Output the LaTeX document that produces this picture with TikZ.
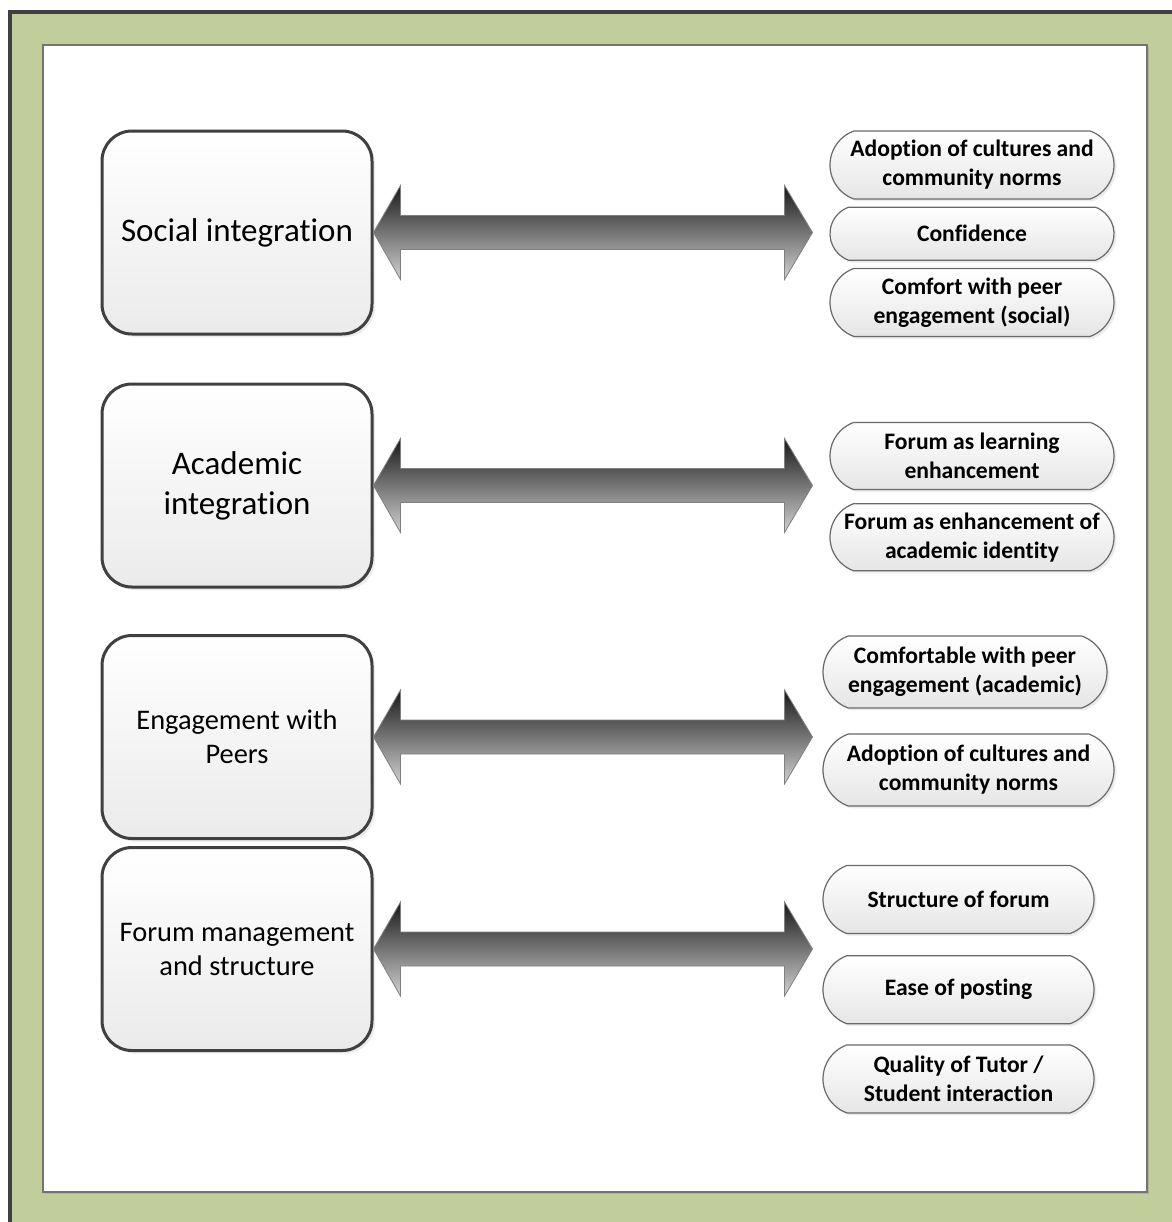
\documentclass[tikz,border=0pt]{standalone}
\usepackage{fontspec}
\setmainfont{Carlito}[RawFeature={-liga;-clig;-dlig}]
\usetikzlibrary{positioning,shapes.misc,shadows}

\definecolor{framegreen}{RGB}{194,205,156}
\definecolor{framedark}{RGB}{64,64,64}
\definecolor{pillline}{RGB}{105,105,105}

\begin{document}
\begin{tikzpicture}[x=0.5pt, y=-0.5pt, node distance=3.5pt]
    \tikzstyle{topic} = [draw=framedark, line width=1.5pt, rounded corners=15pt, top color=white, bottom color=black!8, minimum width=135pt, minimum height=101.5pt, align=center, inner sep=0pt, drop shadow={opacity=0.15, shadow xshift=1.5pt, shadow yshift=-1.5pt}]
    \tikzstyle{theme} = [draw=pillline, line width=0.6pt, rounded rectangle, rounded rectangle arc length=140, top color=white, bottom color=black!10, minimum width=142pt, minimum height=34pt, align=center, inner sep=0pt, font=\bfseries\fontsize{11.8}{14.5}\selectfont, drop shadow={opacity=0.15, shadow xshift=1.2pt, shadow yshift=-1.2pt}]
    \tikzstyle{link} = [draw=black!50, line width=0.4pt, top color=black!90, bottom color=black!18]
    \tikzstyle{big} = [font=\fontsize{16.5}{20}\selectfont]
    \tikzstyle{mid} = [font=\fontsize{14.2}{17}\selectfont]

    % frame
    \useasboundingbox (0,0) rectangle (1172,1222);
    \begin{scope}
        \clip (0,0) rectangle (1172,1222);
        \draw[framedark, line width=2pt, fill=framegreen] (10,12) rectangle (1192,1242);
    \end{scope}
    \draw[black!55, line width=1pt, fill=white, drop shadow={opacity=0.3, shadow xshift=1pt, shadow yshift=-1pt}] (43,45) rectangle (1147,1192);

    % left column
    \node[topic, big] (social) at (237,232.5) {Social integration};
    \node[topic, big] (academic) at (237,485.5) {Academic\\integration};
    \node[topic, mid] (peers) at (237,737) {Engagement with\\Peers};
    \node[topic, mid] (forum) at (237,949) {Forum management\\and structure};

    % right column
    \node[theme] (socadopt) at (972,165) {Adoption of cultures and\\community norms};
    \node[theme, minimum height=26.5pt, below=of socadopt] (socconf) {Confidence};
    \node[theme, below=of socconf] (soccomf) {Comfort with peer\\engagement (social)};

    \node[theme, minimum height=33.5pt] (acadlearn) at (972,456) {Forum as learning\\enhancement};
    \node[theme, minimum height=33.5pt, below=6.5pt of acadlearn] (acadident) {Forum as enhancement of\\academic identity};

    \node[theme, minimum height=36pt] (peercomf) at (965,672) {Comfortable with peer\\engagement (academic)};
    \node[theme, minimum height=36pt, minimum width=145.5pt] (peeradopt) at (968.5,770) {Adoption of cultures and\\community norms};

    \node[theme, minimum width=135.5pt] (forstruct) at (958.5,899.5) {Structure of forum};
    \node[theme, minimum width=135.5pt, below=10.5pt of forstruct] (forease) {Ease of posting};
    \node[theme, minimum width=135.5pt, below=10pt of forease] (forqual) {Quality of Tutor /\\Student interaction};

    % double arrows
    \foreach \t in {social,academic,peers,forum}
        \path[link] (\t.east) -- ++(27,-47) -- ++(0,30) -- ++(384,0) -- ++(0,-30)
            -- ++(28,47) -- ++(-28,47) -- ++(0,-30) -- ++(-384,0) -- ++(0,30) -- cycle;
\end{tikzpicture}
\end{document}
